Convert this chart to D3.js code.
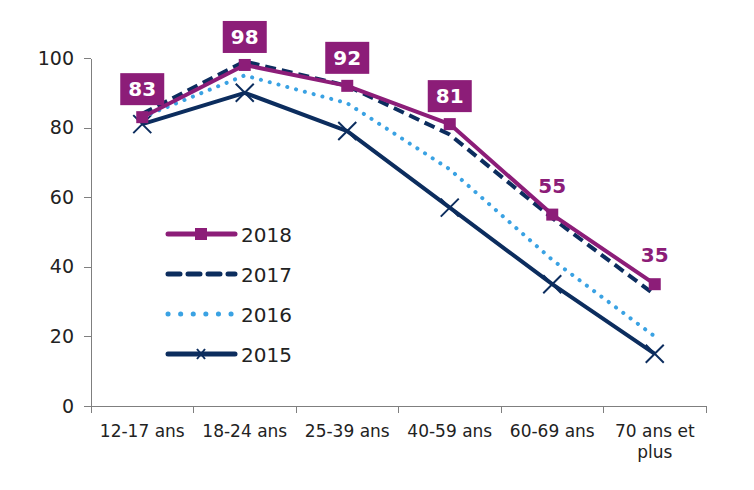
<!DOCTYPE html>
<html>
<head>
<meta charset="utf-8">
<script src="https://cdn.jsdelivr.net/npm/d3@7"></script>
<style>
  body { margin: 0; background: #fff; }
  text { font-family: "DejaVu Sans", Verdana, sans-serif; }
  .axis path, .axis line { stroke: #7f7f7f; shape-rendering: crispEdges; }
  .axis text { fill: #222; }
</style>
</head>
<body>
<script>
var categories = ['12-17 ans', '18-24 ans', '25-39 ans', '40-59 ans', '60-69 ans', '70 ans et plus'];
var years = ['2018', '2017', '2016', '2015'];
var v2018 = [83, 98, 92, 81, 55, 35];
var v2017 = [84, 99, 92, 78, 54, 32];
var v2016 = [83, 95, 87, 68, 42, 20];
var v2015 = [81, 90, 79, 57, 35, 15];
var yTicks = [0, 20, 40, 60, 80, 100];

var w = 754, h = 490;
var mLeft = 91, mRight = 706, mTop = 58, mBottom = 406;
var purple = '#8c1d78', navy = '#0c2d5e', sky = '#3aa2e3';

var svg = d3.select('body').append('svg').attr('width', w).attr('height', h);

var x = d3.scaleBand().domain(categories).range([mLeft, mRight]);
var y = d3.scaleLinear().domain([0, 100]).range([mBottom, mTop]);

// axes
svg.append('g')
  .attr('class', 'axis')
  .attr('transform', 'translate(' + mLeft + ',0)')
  .call(d3.axisLeft(y).tickValues(yTicks).tickSize(7).tickPadding(10).tickSizeOuter(0))
  .selectAll('text').style('font-size', '19px');

var xAxis = svg.append('g')
  .attr('class', 'axis')
  .attr('transform', 'translate(0,' + mBottom + ')')
  .call(d3.axisBottom(x).tickSize(0).tickPadding(19));
xAxis.selectAll('text').style('font-size', '17px')
  .each(function(d) {
    if (d === '70 ans et plus') {
      var t = d3.select(this).text(null);
      t.append('tspan').attr('x', 0).attr('dy', '0.71em').text('70 ans et');
      t.append('tspan').attr('x', 0).attr('dy', '1.25em').text('plus');
      t.attr('dy', null);
    }
  });
// category boundary ticks
xAxis.selectAll('line.bound')
  .data(d3.range(categories.length + 1))
  .enter().append('line')
  .attr('class', 'bound')
  .attr('x1', function(i) { return mLeft + i * x.bandwidth(); })
  .attr('x2', function(i) { return mLeft + i * x.bandwidth(); })
  .attr('y1', 0).attr('y2', 7)
  .attr('stroke', '#7f7f7f');

var cx = function(d, i) { return x(categories[i]) + x.bandwidth() / 2; };
var line = d3.line().x(cx).y(function(d) { return y(d); });

var series = [
  { year: '2015', values: v2015, color: navy, width: 4, dash: null, marker: 'x' },
  { year: '2016', values: v2016, color: sky, width: 4, dash: '0.1 9', cap: 'round', marker: null },
  { year: '2017', values: v2017, color: navy, width: 4, dash: '11 6', marker: null },
  { year: '2018', values: v2018, color: purple, width: 4, dash: null, marker: 'square' }
];

series.forEach(function(s) {
  svg.append('path')
    .datum(s.values)
    .attr('d', line)
    .attr('fill', 'none')
    .attr('stroke', s.color)
    .attr('stroke-width', s.width)
    .attr('stroke-linecap', s.cap || 'butt')
    .attr('stroke-linejoin', 'round')
    .attr('stroke-dasharray', s.dash);
  if (s.marker === 'x') {
    svg.selectAll(null).data(s.values).enter().append('path')
      .attr('transform', function(d, i) { return 'translate(' + cx(d, i) + ',' + y(d) + ')'; })
      .attr('d', 'M-9,-9L9,9M-9,9L9,-9')
      .attr('stroke', s.color).attr('stroke-width', 2);
  }
  if (s.marker === 'square') {
    svg.selectAll(null).data(s.values).enter().append('rect')
      .attr('x', function(d, i) { return cx(d, i) - 6; })
      .attr('y', function(d) { return y(d) - 6; })
      .attr('width', 12).attr('height', 12)
      .attr('fill', s.color);
  }
});

// data labels for 2018
var boxed = [true, true, true, true, false, false];
v2018.forEach(function(d, i) {
  var px = cx(d, i), py = y(d);
  if (boxed[i]) {
    svg.append('rect')
      .attr('x', px - 22).attr('y', py - 44)
      .attr('width', 44).attr('height', 32)
      .attr('fill', purple);
    svg.append('text')
      .attr('x', px).attr('y', py - 21)
      .attr('text-anchor', 'middle')
      .style('font-size', '20px').style('font-weight', 'bold')
      .attr('fill', '#fff').text(d);
  } else {
    svg.append('text')
      .attr('x', px).attr('y', py - 22)
      .attr('text-anchor', 'middle')
      .style('font-size', '20px').style('font-weight', 'bold')
      .attr('fill', purple).text(d);
  }
});

// legend
var legend = svg.append('g').attr('transform', 'translate(166,234)');
var legendOrder = [series[3], series[2], series[1], series[0]];
legendOrder.forEach(function(s, i) {
  var g = legend.append('g').attr('transform', 'translate(0,' + (i * 40) + ')');
  g.append('line')
    .attr('x1', 2).attr('x2', 69).attr('y1', 0).attr('y2', 0)
    .attr('stroke', s.color).attr('stroke-width', s.width + 1)
    .attr('stroke-linecap', s.cap || 'round')
    .attr('stroke-dasharray', s.dash ? (s.cap ? '0.1 12.5' : '12 8') : null);
  if (s.marker === 'square') {
    g.append('rect').attr('x', 29).attr('y', -6).attr('width', 12).attr('height', 12).attr('fill', s.color);
  }
  if (s.marker === 'x') {
    g.append('path').attr('d', 'M31,-5L39,5M31,5L39,-5').attr('stroke', s.color).attr('stroke-width', 2);
  }
  g.append('text')
    .attr('x', 75).attr('y', 1).attr('dy', '0.35em')
    .style('font-size', '20px').attr('fill', '#222')
    .text(s.year);
});
</script>
</body>
</html>
